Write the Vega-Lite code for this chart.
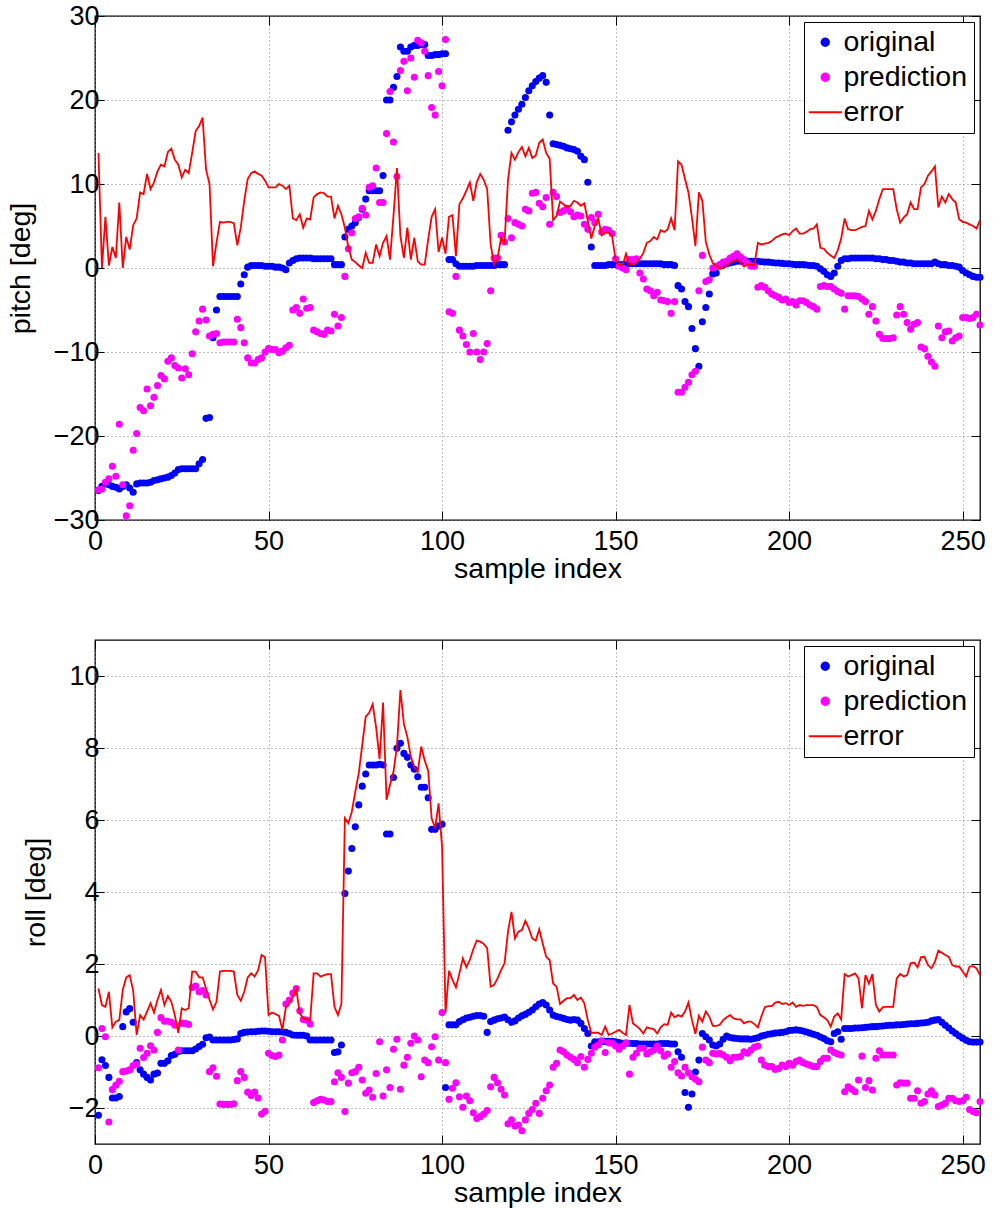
{
"$schema": "https://vega.github.io/schema/vega-lite/v6.json",
"background": "white",
"padding": {"left": 5, "top": 1, "right": 5, "bottom": 5},
"spacing": 54,
"resolve": {"scale": {"x": "independent", "y": "independent", "color": "independent"}, "legend": {"color": "independent"}},
"config": {
  "font": "Liberation Sans",
  "view": {"stroke": "black", "strokeWidth": 1.3},
  "axis": {"domain": false, "tickColor": "black", "tickSize": -9, "tickWidth": 1, "labelFontSize": 27, "titleFontSize": 28.5, "labelColor": "black", "titleColor": "black", "titleFontWeight": "normal", "labelFont": "Liberation Sans", "titleFont": "Liberation Sans", "gridColor": "#808080", "gridDash": [1, 3], "gridWidth": 1, "gridOpacity": 1, "labelPadding": 5, "titlePadding": 18, "labelFlush": false, "labelOverlap": false},
  "axisX": {"labelPadding": 17, "titlePadding": 0},
  "legend": {"title": null, "orient": "top-right", "offset": 6, "padding": 6, "rowPadding": 6, "fillColor": "white", "strokeColor": "black", "labelFont": "Liberation Sans", "labelFontSize": 28.5, "labelColor": "black", "labelOffset": 4, "symbolSize": 1090, "symbolOffset": 1, "symbolStrokeWidth": 2, "labelLimit": 300}
},
"datasets": {
"pitch": [
{"x":1,"orig":-26.5,"pred":-26.4,"err":13.7},{"x":2,"orig":-26.0,"pred":-26.3,"err":0.0},{"x":3,"orig":-25.6,"pred":-25.5,"err":6.1},{"x":4,"orig":-25.8,"pred":-25.1,"err":0.3},{"x":5,"orig":-26.0,"pred":-23.6,"err":2.5},
{"x":6,"orig":-26.1,"pred":-24.8,"err":1.2},{"x":7,"orig":-26.3,"pred":-18.6,"err":7.8},{"x":8,"orig":-26.0,"pred":-25.8,"err":0.0},{"x":9,"orig":-25.8,"pred":-29.5,"err":3.7},{"x":10,"orig":-26.2,"pred":-28.3,"err":2.2},
{"x":11,"orig":-26.7,"pred":-21.7,"err":5.1},{"x":12,"orig":-25.7,"pred":-19.7,"err":5.9},{"x":13,"orig":-25.6,"pred":-16.6,"err":9.0},{"x":14,"orig":-25.6,"pred":-17.0,"err":8.8},{"x":15,"orig":-25.6,"pred":-14.4,"err":11.2},
{"x":16,"orig":-25.5,"pred":-16.4,"err":9.4},{"x":17,"orig":-25.3,"pred":-15.4,"err":10.2},{"x":18,"orig":-25.2,"pred":-14.0,"err":11.5},{"x":19,"orig":-25.1,"pred":-12.8,"err":12.3},{"x":20,"orig":-25.0,"pred":-13.2,"err":12.1},
{"x":21,"orig":-24.9,"pred":-11.1,"err":13.8},{"x":22,"orig":-24.7,"pred":-10.7,"err":14.2},{"x":23,"orig":-24.4,"pred":-11.6,"err":12.9},{"x":24,"orig":-24.0,"pred":-11.9,"err":12.3},{"x":25,"orig":-23.9,"pred":-13.1,"err":10.8},
{"x":26,"orig":-23.9,"pred":-12.0,"err":11.7},{"x":27,"orig":-23.9,"pred":-12.7,"err":11.3},{"x":28,"orig":-23.9,"pred":-10.2,"err":13.7},{"x":29,"orig":-23.9,"pred":-7.6,"err":16.3},{"x":30,"orig":-23.3,"pred":-6.3,"err":16.9},
{"x":31,"orig":-22.8,"pred":-4.9,"err":17.9},{"x":32,"orig":-17.9,"pred":-6.2,"err":11.7},{"x":33,"orig":-17.8,"pred":-8.1,"err":10.0},{"x":34,"orig":-8.3,"pred":-7.9,"err":0.2},{"x":35,"orig":-5.0,"pred":-7.8,"err":3.0},
{"x":36,"orig":-3.4,"pred":-8.9,"err":5.5},{"x":37,"orig":-3.4,"pred":-8.8,"err":5.4},{"x":38,"orig":-3.4,"pred":-8.8,"err":5.5},{"x":39,"orig":-3.4,"pred":-8.8,"err":5.5},{"x":40,"orig":-3.4,"pred":-8.8,"err":5.3},
{"x":41,"orig":-3.4,"pred":-6.1,"err":2.7},{"x":42,"orig":-1.9,"pred":-7.1,"err":4.8},{"x":43,"orig":-0.8,"pred":-8.9,"err":8.0},{"x":44,"orig":0.1,"pred":-10.7,"err":10.6},{"x":45,"orig":0.3,"pred":-11.3,"err":11.3},
{"x":46,"orig":0.3,"pred":-11.3,"err":11.5},{"x":47,"orig":0.3,"pred":-10.9,"err":11.2},{"x":48,"orig":0.3,"pred":-10.7,"err":11.0},{"x":49,"orig":0.2,"pred":-10.0,"err":10.4},{"x":50,"orig":0.2,"pred":-9.6,"err":9.6},
{"x":51,"orig":0.2,"pred":-9.7,"err":9.6},{"x":52,"orig":0.1,"pred":-9.7,"err":9.6},{"x":53,"orig":0.1,"pred":-10.1,"err":10.0},{"x":54,"orig":0.0,"pred":-9.9,"err":9.8},{"x":55,"orig":-0.2,"pred":-9.5,"err":9.4},
{"x":56,"orig":0.6,"pred":-9.2,"err":9.8},{"x":57,"orig":0.9,"pred":-5.0,"err":5.9},{"x":58,"orig":1.1,"pred":-4.7,"err":5.7},{"x":59,"orig":1.2,"pred":-5.4,"err":6.4},{"x":60,"orig":1.2,"pred":-3.7,"err":4.8},
{"x":61,"orig":1.2,"pred":-4.8,"err":5.9},{"x":62,"orig":1.2,"pred":-4.7,"err":5.8},{"x":63,"orig":1.1,"pred":-7.4,"err":8.4},{"x":64,"orig":1.1,"pred":-7.6,"err":8.8},{"x":65,"orig":1.1,"pred":-7.8,"err":9.0},
{"x":66,"orig":1.1,"pred":-7.9,"err":8.9},{"x":67,"orig":1.1,"pred":-7.4,"err":8.5},{"x":68,"orig":1.1,"pred":-7.5,"err":8.5},{"x":69,"orig":0.4,"pred":-5.5,"err":5.9},{"x":70,"orig":0.4,"pred":-6.9,"err":7.4},
{"x":71,"orig":0.4,"pred":-5.9,"err":6.4},{"x":72,"orig":3.7,"pred":-1.0,"err":4.8},{"x":73,"orig":4.6,"pred":2.3,"err":2.5},{"x":74,"orig":5.0,"pred":4.2,"err":1.0},{"x":75,"orig":5.4,"pred":5.9,"err":0.7},
{"x":76,"orig":6.0,"pred":6.1,"err":0.3},{"x":77,"orig":7.0,"pred":7.1,"err":0.0},{"x":78,"orig":8.2,"pred":6.3,"err":1.8},{"x":79,"orig":9.2,"pred":9.6,"err":0.6},{"x":80,"orig":9.2,"pred":9.8,"err":0.6},
{"x":81,"orig":9.2,"pred":11.9,"err":2.8},{"x":82,"orig":9.2,"pred":7.8,"err":1.4},{"x":83,"orig":11.0,"pred":7.8,"err":3.0},{"x":84,"orig":20.0,"pred":16.0,"err":3.8},{"x":85,"orig":20.0,"pred":21.0,"err":1.0},
{"x":86,"orig":21.5,"pred":15.0,"err":6.2},{"x":87,"orig":22.8,"pred":10.9,"err":11.9},{"x":88,"orig":26.3,"pred":23.5,"err":3.8},{"x":89,"orig":25.8,"pred":24.6,"err":1.2},{"x":90,"orig":25.8,"pred":21.1,"err":4.8},
{"x":91,"orig":26.3,"pred":25.0,"err":1.0},{"x":92,"orig":26.5,"pred":22.7,"err":3.6},{"x":93,"orig":26.5,"pred":27.1,"err":0.8},{"x":94,"orig":26.6,"pred":26.8,"err":0.4},{"x":95,"orig":26.6,"pred":25.8,"err":0.4},
{"x":96,"orig":25.3,"pred":22.9,"err":3.4},{"x":97,"orig":25.3,"pred":19.1,"err":6.1},{"x":98,"orig":25.4,"pred":18.2,"err":7.0},{"x":99,"orig":25.4,"pred":23.4,"err":1.9},{"x":100,"orig":25.5,"pred":21.7,"err":3.6},
{"x":101,"orig":25.5,"pred":27.2,"err":1.7},{"x":102,"orig":1.0,"pred":-5.2,"err":6.1},{"x":103,"orig":1.0,"pred":-5.4,"err":6.3},{"x":104,"orig":0.5,"pred":-1.0,"err":1.4},{"x":105,"orig":0.2,"pred":-7.4,"err":7.6},
{"x":106,"orig":0.2,"pred":-8.1,"err":8.3},{"x":107,"orig":0.2,"pred":-9.1,"err":9.2},{"x":108,"orig":0.2,"pred":-10.0,"err":10.2},{"x":109,"orig":0.2,"pred":-7.8,"err":8.0},{"x":110,"orig":0.3,"pred":-10.0,"err":10.2},
{"x":111,"orig":0.3,"pred":-10.9,"err":11.2},{"x":112,"orig":0.3,"pred":-10.0,"err":10.5},{"x":113,"orig":0.3,"pred":-9.0,"err":9.4},{"x":114,"orig":0.3,"pred":-2.7,"err":2.8},{"x":115,"orig":0.3,"pred":1.2,"err":0.4},
{"x":116,"orig":0.4,"pred":1.2,"err":1.2},{"x":117,"orig":0.4,"pred":3.9,"err":3.6},{"x":118,"orig":0.4,"pred":3.1,"err":3.0},{"x":119,"orig":16.4,"pred":5.9,"err":10.5},{"x":120,"orig":17.4,"pred":3.6,"err":13.7},
{"x":121,"orig":18.2,"pred":5.4,"err":12.9},{"x":122,"orig":18.9,"pred":5.2,"err":13.8},{"x":123,"orig":19.5,"pred":5.0,"err":14.4},{"x":124,"orig":20.3,"pred":7.0,"err":13.3},{"x":125,"orig":21.1,"pred":6.8,"err":14.3},
{"x":126,"orig":21.7,"pred":8.9,"err":13.1},{"x":127,"orig":22.2,"pred":9.0,"err":13.4},{"x":128,"orig":22.6,"pred":7.7,"err":14.9},{"x":129,"orig":22.9,"pred":7.3,"err":15.3},{"x":130,"orig":22.1,"pred":8.4,"err":13.7},
{"x":131,"orig":18.2,"pred":5.2,"err":13.0},{"x":132,"orig":14.8,"pred":9.0,"err":5.7},{"x":133,"orig":14.7,"pred":8.5,"err":6.2},{"x":134,"orig":14.6,"pred":6.6,"err":7.9},{"x":135,"orig":14.5,"pred":6.8,"err":7.6},
{"x":136,"orig":14.3,"pred":7.1,"err":7.3},{"x":137,"orig":14.2,"pred":6.7,"err":7.4},{"x":138,"orig":14.1,"pred":6.1,"err":8.0},{"x":139,"orig":13.9,"pred":6.3,"err":7.8},{"x":140,"orig":13.3,"pred":6.2,"err":7.4},
{"x":141,"orig":12.9,"pred":5.2,"err":7.7},{"x":142,"orig":10.2,"pred":4.6,"err":5.6},{"x":143,"orig":2.5,"pred":6.0,"err":3.5},{"x":144,"orig":0.3,"pred":5.4,"err":5.0},{"x":145,"orig":0.3,"pred":6.4,"err":5.9},
{"x":146,"orig":0.3,"pred":4.3,"err":3.9},{"x":147,"orig":0.3,"pred":4.6,"err":4.2},{"x":148,"orig":0.4,"pred":4.5,"err":4.2},{"x":149,"orig":0.4,"pred":4.1,"err":3.8},{"x":150,"orig":0.4,"pred":1.1,"err":1.0},
{"x":151,"orig":0.4,"pred":0.2,"err":0.4},{"x":152,"orig":0.4,"pred":0.0,"err":0.3},{"x":153,"orig":0.4,"pred":-0.2,"err":1.7},{"x":154,"orig":0.5,"pred":1.0,"err":0.4},{"x":155,"orig":0.5,"pred":1.0,"err":0.4},
{"x":156,"orig":0.5,"pred":1.1,"err":0.6},{"x":157,"orig":0.5,"pred":-0.6,"err":1.1},{"x":158,"orig":0.5,"pred":-1.3,"err":1.8},{"x":159,"orig":0.5,"pred":-2.5,"err":3.0},{"x":160,"orig":0.5,"pred":-2.7,"err":3.2},
{"x":161,"orig":0.5,"pred":-3.3,"err":3.7},{"x":162,"orig":0.5,"pred":-2.9,"err":3.4},{"x":163,"orig":0.5,"pred":-3.8,"err":4.5},{"x":164,"orig":0.4,"pred":-3.9,"err":4.3},{"x":165,"orig":0.4,"pred":-4.0,"err":4.6},
{"x":166,"orig":0.4,"pred":-5.4,"err":5.9},{"x":167,"orig":0.3,"pred":-4.0,"err":4.5},{"x":168,"orig":-2.1,"pred":-14.8,"err":12.7},{"x":169,"orig":-2.5,"pred":-14.8,"err":12.3},{"x":170,"orig":-4.0,"pred":-14.2,"err":10.6},
{"x":171,"orig":-4.6,"pred":-13.6,"err":9.0},{"x":172,"orig":-7.2,"pred":-12.7,"err":6.0},{"x":173,"orig":-9.6,"pred":-12.3,"err":2.6},{"x":174,"orig":-11.7,"pred":-2.7,"err":9.0},{"x":175,"orig":-6.4,"pred":1.5,"err":8.0},
{"x":176,"orig":-4.7,"pred":-1.6,"err":3.1},{"x":177,"orig":-3.1,"pred":-1.4,"err":1.6},{"x":178,"orig":-0.7,"pred":0.0,"err":0.6},{"x":179,"orig":-0.6,"pred":0.2,"err":0.2},{"x":180,"orig":0.2,"pred":0.4,"err":0.0},
{"x":181,"orig":0.4,"pred":0.7,"err":0.0},{"x":182,"orig":0.5,"pred":0.8,"err":0.2},{"x":183,"orig":0.6,"pred":1.2,"err":0.6},{"x":184,"orig":0.7,"pred":1.4,"err":0.8},{"x":185,"orig":0.8,"pred":1.7,"err":1.0},
{"x":186,"orig":0.8,"pred":1.3,"err":0.6},{"x":187,"orig":0.8,"pred":1.0,"err":0.2},{"x":188,"orig":0.8,"pred":0.6,"err":0.4},{"x":189,"orig":0.8,"pred":0.2,"err":0.4},{"x":190,"orig":0.8,"pred":0.2,"err":0.4},
{"x":191,"orig":0.8,"pred":-2.3,"err":3.0},{"x":192,"orig":0.75,"pred":-2.1,"err":2.8},{"x":193,"orig":0.7,"pred":-2.3,"err":2.9},{"x":194,"orig":0.7,"pred":-2.7,"err":3.0},{"x":195,"orig":0.65,"pred":-3.1,"err":3.2},
{"x":196,"orig":0.6,"pred":-3.3,"err":3.6},{"x":197,"orig":0.6,"pred":-3.5,"err":3.8},{"x":198,"orig":0.55,"pred":-3.8,"err":4.0},{"x":199,"orig":0.5,"pred":-3.7,"err":4.1},{"x":200,"orig":0.5,"pred":-4.1,"err":3.9},
{"x":201,"orig":0.45,"pred":-4.0,"err":4.4},{"x":202,"orig":0.4,"pred":-4.4,"err":4.7},{"x":203,"orig":0.4,"pred":-3.9,"err":4.1},{"x":204,"orig":0.4,"pred":-3.9,"err":4.1},{"x":205,"orig":0.35,"pred":-4.1,"err":4.3},
{"x":206,"orig":0.3,"pred":-4.4,"err":4.6},{"x":207,"orig":0.3,"pred":-4.6,"err":4.7},{"x":208,"orig":0.2,"pred":-4.9,"err":5.2},{"x":209,"orig":-0.1,"pred":-2.2,"err":2.4},{"x":210,"orig":-0.4,"pred":-2.1,"err":2.3},
{"x":211,"orig":-0.8,"pred":-2.2,"err":1.8},{"x":212,"orig":-1.0,"pred":-2.2,"err":1.5},{"x":213,"orig":-0.6,"pred":-2.5,"err":1.2},{"x":214,"orig":0.2,"pred":-2.8,"err":2.1},{"x":215,"orig":0.9,"pred":-3.0,"err":3.5},
{"x":216,"orig":1.1,"pred":-4.9,"err":5.9},{"x":217,"orig":1.1,"pred":-3.3,"err":4.6},{"x":218,"orig":1.2,"pred":-3.3,"err":4.5},{"x":219,"orig":1.2,"pred":-3.3,"err":4.5},{"x":220,"orig":1.2,"pred":-3.4,"err":4.7},
{"x":221,"orig":1.2,"pred":-3.7,"err":4.9},{"x":222,"orig":1.2,"pred":-4.0,"err":5.0},{"x":223,"orig":1.2,"pred":-5.5,"err":6.8},{"x":224,"orig":1.2,"pred":-4.6,"err":5.8},{"x":225,"orig":1.1,"pred":-6.3,"err":6.8},
{"x":226,"orig":1.1,"pred":-7.9,"err":8.2},{"x":227,"orig":1.0,"pred":-8.4,"err":9.4},{"x":228,"orig":1.0,"pred":-8.4,"err":9.4},{"x":229,"orig":0.9,"pred":-8.4,"err":9.4},{"x":230,"orig":0.9,"pred":-8.3,"err":9.4},
{"x":231,"orig":0.8,"pred":-5.6,"err":7.0},{"x":232,"orig":0.7,"pred":-4.6,"err":5.4},{"x":233,"orig":0.7,"pred":-5.5,"err":6.0},{"x":234,"orig":0.6,"pred":-6.5,"err":6.4},{"x":235,"orig":0.6,"pred":-7.3,"err":7.8},
{"x":236,"orig":0.5,"pred":-6.7,"err":7.0},{"x":237,"orig":0.5,"pred":-6.5,"err":7.0},{"x":238,"orig":0.5,"pred":-9.4,"err":9.6},{"x":239,"orig":0.5,"pred":-9.6,"err":10.0},{"x":240,"orig":0.5,"pred":-10.5,"err":11.0},
{"x":241,"orig":0.5,"pred":-11.2,"err":11.5},{"x":242,"orig":0.7,"pred":-11.7,"err":12.1},{"x":243,"orig":0.5,"pred":-6.9,"err":7.2},{"x":244,"orig":0.4,"pred":-8.3,"err":8.5},{"x":245,"orig":0.4,"pred":-7.6,"err":7.8},
{"x":246,"orig":0.3,"pred":-7.5,"err":8.8},{"x":247,"orig":0.3,"pred":-8.7,"err":8.2},{"x":248,"orig":0.2,"pred":-8.3,"err":7.8},{"x":249,"orig":0.1,"pred":-8.1,"err":5.8},{"x":250,"orig":-0.3,"pred":-5.9,"err":5.5},
{"x":251,"orig":-0.6,"pred":-5.9,"err":5.4},{"x":252,"orig":-0.8,"pred":-6.0,"err":5.2},{"x":253,"orig":-1.0,"pred":-5.9,"err":5.0},{"x":254,"orig":-1.1,"pred":-5.5,"err":4.7},{"x":255,"orig":-1.1,"pred":-6.8,"err":5.7}
],
"roll": [
{"x":1,"orig":-2.2,"pred":-0.88,"err":1.32},{"x":2,"orig":-0.66,"pred":0.21,"err":0.86},{"x":3,"orig":-0.82,"pred":-0.02,"err":0.81},{"x":4,"orig":-1.15,"pred":-2.39,"err":1.23},{"x":5,"orig":-1.72,"pred":-1.49,"err":0.24},
{"x":6,"orig":-1.72,"pred":-1.37,"err":0.4},{"x":7,"orig":-1.68,"pred":-1.26,"err":0.44},{"x":8,"orig":0.26,"pred":-0.99,"err":1.28},{"x":9,"orig":0.67,"pred":-0.97,"err":1.63},{"x":10,"orig":0.76,"pred":-0.94,"err":1.69},
{"x":11,"orig":0.38,"pred":-0.82,"err":1.26},{"x":12,"orig":-0.74,"pred":-0.78,"err":0.03},{"x":13,"orig":-0.94,"pred":-0.34,"err":0.58},{"x":14,"orig":-1.06,"pred":-0.6,"err":0.46},{"x":15,"orig":-1.15,"pred":-0.48,"err":0.68},
{"x":16,"orig":-1.22,"pred":-0.27,"err":0.91},{"x":17,"orig":-1.06,"pred":-0.39,"err":0.65},{"x":18,"orig":-1.03,"pred":0.1,"err":1.0},{"x":19,"orig":-0.76,"pred":0.51,"err":1.28},{"x":20,"orig":-0.76,"pred":0.41,"err":0.86},
{"x":21,"orig":-0.69,"pred":0.41,"err":1.11},{"x":22,"orig":-0.54,"pred":0.38,"err":0.95},{"x":23,"orig":-0.51,"pred":0.3,"err":0.58},{"x":24,"orig":-0.43,"pred":-0.39,"err":0.09},{"x":25,"orig":-0.41,"pred":0.35,"err":0.77},
{"x":26,"orig":-0.41,"pred":0.35,"err":0.72},{"x":27,"orig":-0.41,"pred":0.32,"err":0.77},{"x":28,"orig":-0.41,"pred":1.35,"err":1.79},{"x":29,"orig":-0.36,"pred":1.39,"err":1.79},{"x":30,"orig":-0.29,"pred":1.23,"err":1.63},
{"x":31,"orig":-0.23,"pred":1.26,"err":1.63},{"x":32,"orig":-0.05,"pred":1.14,"err":1.32},{"x":33,"orig":-0.03,"pred":-0.99,"err":1.0},{"x":34,"orig":-0.11,"pred":-0.88,"err":0.74},{"x":35,"orig":-0.11,"pred":-1.12,"err":0.95},
{"x":36,"orig":-0.11,"pred":-1.89,"err":1.79},{"x":37,"orig":-0.11,"pred":-1.9,"err":1.81},{"x":38,"orig":-0.11,"pred":-1.9,"err":1.81},{"x":39,"orig":-0.11,"pred":-1.9,"err":1.81},{"x":40,"orig":-0.1,"pred":-1.88,"err":1.79},
{"x":41,"orig":-0.08,"pred":-1.24,"err":1.14},{"x":42,"orig":0.07,"pred":-0.99,"err":0.98},{"x":43,"orig":0.1,"pred":-1.15,"err":1.23},{"x":44,"orig":0.11,"pred":-1.56,"err":1.63},{"x":45,"orig":0.12,"pred":-1.65,"err":1.74},
{"x":46,"orig":0.12,"pred":-1.56,"err":1.65},{"x":47,"orig":0.13,"pred":-1.72,"err":1.83},{"x":48,"orig":0.14,"pred":-2.17,"err":2.25},{"x":49,"orig":0.14,"pred":-2.09,"err":2.19},{"x":50,"orig":0.13,"pred":-0.48,"err":0.58},
{"x":51,"orig":0.12,"pred":-0.54,"err":0.65},{"x":52,"orig":0.12,"pred":-0.57,"err":0.61},{"x":53,"orig":0.12,"pred":-0.53,"err":0.56},{"x":54,"orig":0.11,"pred":-0.11,"err":0.17},{"x":55,"orig":0.1,"pred":0.89,"err":0.8},
{"x":56,"orig":0.07,"pred":1.0,"err":0.91},{"x":57,"orig":0.03,"pred":1.19,"err":1.09},{"x":58,"orig":0.02,"pred":1.32,"err":1.3},{"x":59,"orig":0.02,"pred":0.7,"err":0.63},{"x":60,"orig":0.02,"pred":0.46,"err":0.49},
{"x":61,"orig":0.0,"pred":0.44,"err":0.46},{"x":62,"orig":-0.11,"pred":0.33,"err":0.44},{"x":63,"orig":-0.11,"pred":-1.85,"err":1.74},{"x":64,"orig":-0.11,"pred":-1.8,"err":1.74},{"x":65,"orig":-0.11,"pred":-1.76,"err":1.65},
{"x":66,"orig":-0.11,"pred":-1.78,"err":1.69},{"x":67,"orig":-0.11,"pred":-1.82,"err":1.72},{"x":68,"orig":-0.11,"pred":-1.82,"err":1.72},{"x":69,"orig":-0.46,"pred":-1.27,"err":0.81},{"x":70,"orig":-0.44,"pred":-1.02,"err":0.58},
{"x":71,"orig":-0.25,"pred":-1.15,"err":0.89},{"x":72,"orig":3.96,"pred":-2.1,"err":6.05},{"x":73,"orig":4.58,"pred":-1.31,"err":5.91},{"x":74,"orig":5.21,"pred":-1.02,"err":6.23},{"x":75,"orig":5.81,"pred":-0.99,"err":6.79},
{"x":76,"orig":6.42,"pred":-0.87,"err":7.3},{"x":77,"orig":6.94,"pred":-1.22,"err":8.08},{"x":78,"orig":7.28,"pred":-1.59,"err":8.87},{"x":79,"orig":7.53,"pred":-1.5,"err":8.98},{"x":80,"orig":7.53,"pred":-1.7,"err":9.22},
{"x":81,"orig":7.53,"pred":-1.04,"err":8.57},{"x":82,"orig":7.55,"pred":-0.16,"err":7.69},{"x":83,"orig":7.53,"pred":-1.67,"err":9.26},{"x":84,"orig":5.61,"pred":-0.94,"err":6.56},{"x":85,"orig":5.61,"pred":-1.43,"err":6.97},
{"x":86,"orig":7.18,"pred":-0.37,"err":7.34},{"x":87,"orig":7.99,"pred":-0.09,"err":8.04},{"x":88,"orig":8.13,"pred":-1.48,"err":9.61},{"x":89,"orig":7.85,"pred":-0.81,"err":8.67},{"x":90,"orig":7.74,"pred":-0.59,"err":8.31},
{"x":91,"orig":7.53,"pred":-0.2,"err":7.76},{"x":92,"orig":7.41,"pred":0.0,"err":7.46},{"x":93,"orig":7.2,"pred":-0.11,"err":7.34},{"x":94,"orig":6.91,"pred":-1.13,"err":8.04},{"x":95,"orig":6.91,"pred":-0.67,"err":7.65},
{"x":96,"orig":6.62,"pred":-0.74,"err":7.37},{"x":97,"orig":5.74,"pred":-0.3,"err":6.05},{"x":98,"orig":5.74,"pred":-0.02,"err":5.77},{"x":99,"orig":5.83,"pred":-0.67,"err":6.46},{"x":100,"orig":5.88,"pred":0.65,"err":5.26},
{"x":101,"orig":-1.43,"pred":-0.74,"err":0.65},{"x":102,"orig":0.31,"pred":-1.76,"err":1.81},{"x":103,"orig":0.31,"pred":-1.45,"err":1.56},{"x":104,"orig":0.31,"pred":-1.3,"err":1.35},{"x":105,"orig":0.4,"pred":-1.69,"err":1.74},
{"x":106,"orig":0.45,"pred":-1.98,"err":2.16},{"x":107,"orig":0.5,"pred":-1.67,"err":1.91},{"x":108,"orig":0.52,"pred":-1.8,"err":2.11},{"x":109,"orig":0.55,"pred":-2.13,"err":2.41},{"x":110,"orig":0.57,"pred":-2.29,"err":2.65},
{"x":111,"orig":0.57,"pred":-2.24,"err":2.62},{"x":112,"orig":0.55,"pred":-2.17,"err":2.56},{"x":113,"orig":0.1,"pred":-2.07,"err":2.44},{"x":114,"orig":0.4,"pred":-1.41,"err":1.37},{"x":115,"orig":0.44,"pred":-1.15,"err":1.42},
{"x":116,"orig":0.48,"pred":-1.3,"err":1.6},{"x":117,"orig":0.5,"pred":-1.48,"err":1.83},{"x":118,"orig":0.53,"pred":-1.64,"err":2.02},{"x":119,"orig":0.45,"pred":-2.44,"err":2.9},{"x":120,"orig":0.38,"pred":-2.33,"err":3.45},
{"x":121,"orig":0.42,"pred":-2.5,"err":2.71},{"x":122,"orig":0.5,"pred":-2.47,"err":2.9},{"x":123,"orig":0.56,"pred":-2.63,"err":2.94},{"x":124,"orig":0.6,"pred":-2.33,"err":3.2},{"x":125,"orig":0.66,"pred":-2.15,"err":2.99},
{"x":126,"orig":0.72,"pred":-2.04,"err":2.71},{"x":127,"orig":0.81,"pred":-1.87,"err":2.65},{"x":128,"orig":0.89,"pred":-2.15,"err":2.96},{"x":129,"orig":0.93,"pred":-1.73,"err":2.57},{"x":130,"orig":0.86,"pred":-1.52,"err":2.2},
{"x":131,"orig":0.72,"pred":-1.36,"err":2.11},{"x":132,"orig":0.58,"pred":-0.87,"err":1.46},{"x":133,"orig":0.54,"pred":-0.76,"err":1.37},{"x":134,"orig":0.52,"pred":-0.39,"err":0.89},{"x":135,"orig":0.49,"pred":-0.44,"err":0.98},
{"x":136,"orig":0.46,"pred":-0.53,"err":1.05},{"x":137,"orig":0.44,"pred":-0.59,"err":1.05},{"x":138,"orig":0.46,"pred":-0.65,"err":1.14},{"x":139,"orig":0.44,"pred":-0.74,"err":1.0},{"x":140,"orig":0.35,"pred":-0.57,"err":1.07},
{"x":141,"orig":0.21,"pred":-0.87,"err":0.91},{"x":142,"orig":0.07,"pred":-0.65,"err":0.44},{"x":143,"orig":-0.28,"pred":-0.48,"err":0.09},{"x":144,"orig":-0.16,"pred":-0.31,"err":0.09},{"x":145,"orig":-0.16,"pred":-0.25,"err":0.09},
{"x":146,"orig":-0.16,"pred":-0.13,"err":0.03},{"x":147,"orig":-0.15,"pred":-0.46,"err":0.26},{"x":148,"orig":-0.15,"pred":-0.19,"err":0.03},{"x":149,"orig":-0.15,"pred":-0.2,"err":0.07},{"x":150,"orig":-0.16,"pred":-0.28,"err":0.12},
{"x":151,"orig":-0.18,"pred":-0.37,"err":0.17},{"x":152,"orig":-0.2,"pred":-0.28,"err":0.09},{"x":153,"orig":-0.2,"pred":-0.19,"err":0.03},{"x":154,"orig":-0.2,"pred":-1.06,"err":0.86},{"x":155,"orig":-0.21,"pred":-0.59,"err":0.35},
{"x":156,"orig":-0.21,"pred":-0.48,"err":0.28},{"x":157,"orig":-0.22,"pred":-0.34,"err":0.19},{"x":158,"orig":-0.22,"pred":-0.34,"err":0.07},{"x":159,"orig":-0.22,"pred":-0.5,"err":0.24},{"x":160,"orig":-0.22,"pred":-0.44,"err":0.21},
{"x":161,"orig":-0.22,"pred":-0.39,"err":0.19},{"x":162,"orig":-0.22,"pred":-0.28,"err":0.07},{"x":163,"orig":-0.21,"pred":-0.41,"err":0.24},{"x":164,"orig":-0.21,"pred":-0.56,"err":0.33},{"x":165,"orig":-0.21,"pred":-0.5,"err":0.31},
{"x":166,"orig":-0.22,"pred":-0.87,"err":0.65},{"x":167,"orig":-0.22,"pred":-0.71,"err":0.52},{"x":168,"orig":-0.44,"pred":-1.02,"err":0.58},{"x":169,"orig":-0.59,"pred":-1.11,"err":0.54},{"x":170,"orig":-1.57,"pred":-0.87,"err":0.68},
{"x":171,"orig":-1.98,"pred":-1.02,"err":0.93},{"x":172,"orig":-1.61,"pred":-1.13,"err":0.44},{"x":173,"orig":-1.0,"pred":-1.2,"err":0.06},{"x":174,"orig":-0.67,"pred":-1.27,"err":0.56},{"x":175,"orig":0.07,"pred":-0.31,"err":0.4},
{"x":176,"orig":-0.02,"pred":-0.67,"err":0.68},{"x":177,"orig":-0.11,"pred":-0.74,"err":0.54},{"x":178,"orig":-0.25,"pred":-0.48,"err":0.28},{"x":179,"orig":-0.28,"pred":-0.5,"err":0.28},{"x":180,"orig":-0.22,"pred":-0.48,"err":0.31},
{"x":181,"orig":-0.09,"pred":-0.53,"err":0.44},{"x":182,"orig":0.0,"pred":-0.59,"err":0.52},{"x":183,"orig":-0.04,"pred":-0.69,"err":0.58},{"x":184,"orig":-0.06,"pred":-0.59,"err":0.49},{"x":185,"orig":-0.07,"pred":-0.59,"err":0.46},
{"x":186,"orig":-0.08,"pred":-0.57,"err":0.46},{"x":187,"orig":-0.08,"pred":-0.44,"err":0.35},{"x":188,"orig":-0.08,"pred":-0.48,"err":0.4},{"x":189,"orig":-0.09,"pred":-0.39,"err":0.4},{"x":190,"orig":-0.07,"pred":-0.31,"err":0.33},
{"x":191,"orig":-0.05,"pred":-0.28,"err":0.24},{"x":192,"orig":0.0,"pred":-0.67,"err":0.54},{"x":193,"orig":0.02,"pred":-0.81,"err":0.8},{"x":194,"orig":0.05,"pred":-0.85,"err":0.83},{"x":195,"orig":0.06,"pred":-0.85,"err":0.83},
{"x":196,"orig":0.08,"pred":-0.93,"err":0.93},{"x":197,"orig":0.09,"pred":-0.9,"err":0.95},{"x":198,"orig":0.1,"pred":-0.81,"err":0.89},{"x":199,"orig":0.12,"pred":-0.85,"err":0.91},{"x":200,"orig":0.15,"pred":-0.76,"err":0.86},
{"x":201,"orig":0.16,"pred":-0.81,"err":0.93},{"x":202,"orig":0.17,"pred":-0.71,"err":0.81},{"x":203,"orig":0.16,"pred":-0.67,"err":0.86},{"x":204,"orig":0.14,"pred":-0.74,"err":0.84},{"x":205,"orig":0.11,"pred":-0.78,"err":0.86},
{"x":206,"orig":0.08,"pred":-0.81,"err":0.86},{"x":207,"orig":0.05,"pred":-0.85,"err":0.86},{"x":208,"orig":0.02,"pred":-0.85,"err":0.8},{"x":209,"orig":-0.03,"pred":-0.71,"err":0.58},{"x":210,"orig":-0.07,"pred":-0.62,"err":0.52},
{"x":211,"orig":-0.13,"pred":-0.62,"err":0.44},{"x":212,"orig":-0.16,"pred":-0.39,"err":0.26},{"x":213,"orig":0.07,"pred":-0.46,"err":0.54},{"x":214,"orig":0.12,"pred":-0.5,"err":0.63},{"x":215,"orig":-0.09,"pred":-0.53,"err":0.46},
{"x":216,"orig":0.21,"pred":-1.55,"err":1.72},{"x":217,"orig":0.21,"pred":-1.41,"err":1.65},{"x":218,"orig":0.21,"pred":-1.48,"err":1.69},{"x":219,"orig":0.22,"pred":-1.55,"err":1.74},{"x":220,"orig":0.22,"pred":-1.22,"err":1.6},
{"x":221,"orig":0.23,"pred":-0.56,"err":0.77},{"x":222,"orig":0.24,"pred":-1.43,"err":1.69},{"x":223,"orig":0.25,"pred":-1.24,"err":1.46},{"x":224,"orig":0.26,"pred":-1.5,"err":1.72},{"x":225,"orig":0.26,"pred":-0.62,"err":0.86},
{"x":226,"orig":0.27,"pred":-0.41,"err":0.68},{"x":227,"orig":0.28,"pred":-0.53,"err":0.8},{"x":228,"orig":0.29,"pred":-0.53,"err":0.81},{"x":229,"orig":0.3,"pred":-0.53,"err":0.81},{"x":230,"orig":0.3,"pred":-0.53,"err":0.81},
{"x":231,"orig":0.31,"pred":-1.36,"err":1.6},{"x":232,"orig":0.31,"pred":-1.3,"err":1.72},{"x":233,"orig":0.32,"pred":-1.31,"err":1.65},{"x":234,"orig":0.33,"pred":-1.31,"err":1.69},{"x":235,"orig":0.34,"pred":-1.73,"err":2.02},
{"x":236,"orig":0.34,"pred":-1.73,"err":2.04},{"x":237,"orig":0.35,"pred":-1.52,"err":1.91},{"x":238,"orig":0.36,"pred":-1.87,"err":2.19},{"x":239,"orig":0.37,"pred":-1.82,"err":2.2},{"x":240,"orig":0.38,"pred":-1.61,"err":1.97},
{"x":241,"orig":0.42,"pred":-1.52,"err":1.88},{"x":242,"orig":0.44,"pred":-1.64,"err":2.06},{"x":243,"orig":0.46,"pred":-1.96,"err":2.37},{"x":244,"orig":0.38,"pred":-1.92,"err":2.31},{"x":245,"orig":0.3,"pred":-1.87,"err":2.25},
{"x":246,"orig":0.22,"pred":-1.73,"err":2.2},{"x":247,"orig":0.14,"pred":-1.73,"err":1.97},{"x":248,"orig":0.07,"pred":-1.8,"err":1.93},{"x":249,"orig":0.0,"pred":-1.82,"err":1.93},{"x":250,"orig":-0.06,"pred":-1.8,"err":1.79},
{"x":251,"orig":-0.12,"pred":-1.7,"err":1.65},{"x":252,"orig":-0.16,"pred":-2.04,"err":1.93},{"x":253,"orig":-0.17,"pred":-2.1,"err":1.94},{"x":254,"orig":-0.17,"pred":-2.13,"err":1.88},{"x":255,"orig":-0.17,"pred":-1.82,"err":1.69}
]
},
"vconcat": [
{
  "width": 885, "height": 504,
  "data": {"name": "pitch"},
  "resolve": {"axis": {"x": "independent", "y": "independent"}},
  "layer": [
    {"mark": {"type": "point", "filled": true, "size": 50, "opacity": 1},
     "encoding": {
       "x": {"field": "x", "type": "quantitative", "scale": {"domain": [0, 255], "nice": false, "zero": false}, "axis": {"values": [0, 50, 100, 150, 200, 250], "title": "sample index"}},
       "y": {"field": "orig", "type": "quantitative", "scale": {"domain": [-30, 30], "nice": false}, "axis": {"values": [-30, -20, -10, 0, 10, 20, 30], "title": "pitch [deg]"}},
       "color": {"datum": "original", "type": "nominal", "scale": {"domain": ["original", "prediction", "error"], "range": ["#0000ff", "#ff00ff", "#ff0000"]},
         "legend": {"encode": {"symbols": {"update": {"shape": {"signal": "datum.value === 'error' ? 'stroke' : 'circle'"}, "size": {"signal": "datum.value === 'error' ? 1090 : 55"}, "fill": {"signal": "datum.value === 'original' ? '#0000ff' : datum.value === 'prediction' ? '#ff00ff' : 'transparent'"}, "stroke": {"signal": "datum.value === 'error' ? '#ff0000' : 'transparent'"}, "strokeWidth": {"value": 2}, "opacity": {"value": 1}}}}}}}},
    {"mark": {"type": "point", "filled": true, "size": 50, "opacity": 1},
     "encoding": {
       "x": {"field": "x", "type": "quantitative", "scale": {"domain": [0, 255], "nice": false, "zero": false}, "axis": {"orient": "top", "values": [0, 50, 100, 150, 200, 250], "labels": false, "grid": false, "title": null}},
       "y": {"field": "pred", "type": "quantitative", "scale": {"domain": [-30, 30], "nice": false}, "axis": {"orient": "right", "values": [-30, -20, -10, 0, 10, 20, 30], "labels": false, "grid": false, "title": null}},
       "color": {"datum": "prediction", "type": "nominal",
         "legend": {"encode": {"symbols": {"update": {"shape": {"signal": "datum.value === 'error' ? 'stroke' : 'circle'"}, "size": {"signal": "datum.value === 'error' ? 1090 : 55"}, "fill": {"signal": "datum.value === 'original' ? '#0000ff' : datum.value === 'prediction' ? '#ff00ff' : 'transparent'"}, "stroke": {"signal": "datum.value === 'error' ? '#ff0000' : 'transparent'"}, "strokeWidth": {"value": 2}, "opacity": {"value": 1}}}}}}}},
    {"mark": {"type": "line", "strokeWidth": 1.8},
     "encoding": {
       "x": {"field": "x", "type": "quantitative", "scale": {"domain": [0, 255], "nice": false, "zero": false}, "axis": null},
       "y": {"field": "err", "type": "quantitative", "scale": {"domain": [-30, 30], "nice": false}, "axis": null},
       "color": {"datum": "error", "type": "nominal",
         "legend": {"encode": {"symbols": {"update": {"shape": {"signal": "datum.value === 'error' ? 'stroke' : 'circle'"}, "size": {"signal": "datum.value === 'error' ? 1090 : 55"}, "fill": {"signal": "datum.value === 'original' ? '#0000ff' : datum.value === 'prediction' ? '#ff00ff' : 'transparent'"}, "stroke": {"signal": "datum.value === 'error' ? '#ff0000' : 'transparent'"}, "strokeWidth": {"value": 2}, "opacity": {"value": 1}}}}}}}}
  ]
},
{
  "width": 885, "height": 504,
  "data": {"name": "roll"},
  "resolve": {"axis": {"x": "independent", "y": "independent"}},
  "layer": [
    {"mark": {"type": "point", "filled": true, "size": 50, "opacity": 1},
     "encoding": {
       "x": {"field": "x", "type": "quantitative", "scale": {"domain": [0, 255], "nice": false, "zero": false}, "axis": {"values": [0, 50, 100, 150, 200, 250], "title": "sample index"}},
       "y": {"field": "orig", "type": "quantitative", "scale": {"domain": [-3, 11], "nice": false}, "axis": {"values": [-2, 0, 2, 4, 6, 8, 10], "title": "roll [deg]"}},
       "color": {"datum": "original", "type": "nominal", "scale": {"domain": ["original", "prediction", "error"], "range": ["#0000ff", "#ff00ff", "#ff0000"]},
         "legend": {"encode": {"symbols": {"update": {"shape": {"signal": "datum.value === 'error' ? 'stroke' : 'circle'"}, "size": {"signal": "datum.value === 'error' ? 1090 : 55"}, "fill": {"signal": "datum.value === 'original' ? '#0000ff' : datum.value === 'prediction' ? '#ff00ff' : 'transparent'"}, "stroke": {"signal": "datum.value === 'error' ? '#ff0000' : 'transparent'"}, "strokeWidth": {"value": 2}, "opacity": {"value": 1}}}}}}}},
    {"mark": {"type": "point", "filled": true, "size": 50, "opacity": 1},
     "encoding": {
       "x": {"field": "x", "type": "quantitative", "scale": {"domain": [0, 255], "nice": false, "zero": false}, "axis": {"orient": "top", "values": [0, 50, 100, 150, 200, 250], "labels": false, "grid": false, "title": null}},
       "y": {"field": "pred", "type": "quantitative", "scale": {"domain": [-3, 11], "nice": false}, "axis": {"orient": "right", "values": [-2, 0, 2, 4, 6, 8, 10], "labels": false, "grid": false, "title": null}},
       "color": {"datum": "prediction", "type": "nominal",
         "legend": {"encode": {"symbols": {"update": {"shape": {"signal": "datum.value === 'error' ? 'stroke' : 'circle'"}, "size": {"signal": "datum.value === 'error' ? 1090 : 55"}, "fill": {"signal": "datum.value === 'original' ? '#0000ff' : datum.value === 'prediction' ? '#ff00ff' : 'transparent'"}, "stroke": {"signal": "datum.value === 'error' ? '#ff0000' : 'transparent'"}, "strokeWidth": {"value": 2}, "opacity": {"value": 1}}}}}}}},
    {"mark": {"type": "line", "strokeWidth": 1.8},
     "encoding": {
       "x": {"field": "x", "type": "quantitative", "scale": {"domain": [0, 255], "nice": false, "zero": false}, "axis": null},
       "y": {"field": "err", "type": "quantitative", "scale": {"domain": [-3, 11], "nice": false}, "axis": null},
       "color": {"datum": "error", "type": "nominal",
         "legend": {"encode": {"symbols": {"update": {"shape": {"signal": "datum.value === 'error' ? 'stroke' : 'circle'"}, "size": {"signal": "datum.value === 'error' ? 1090 : 55"}, "fill": {"signal": "datum.value === 'original' ? '#0000ff' : datum.value === 'prediction' ? '#ff00ff' : 'transparent'"}, "stroke": {"signal": "datum.value === 'error' ? '#ff0000' : 'transparent'"}, "strokeWidth": {"value": 2}, "opacity": {"value": 1}}}}}}}}
  ]
}
]
}
